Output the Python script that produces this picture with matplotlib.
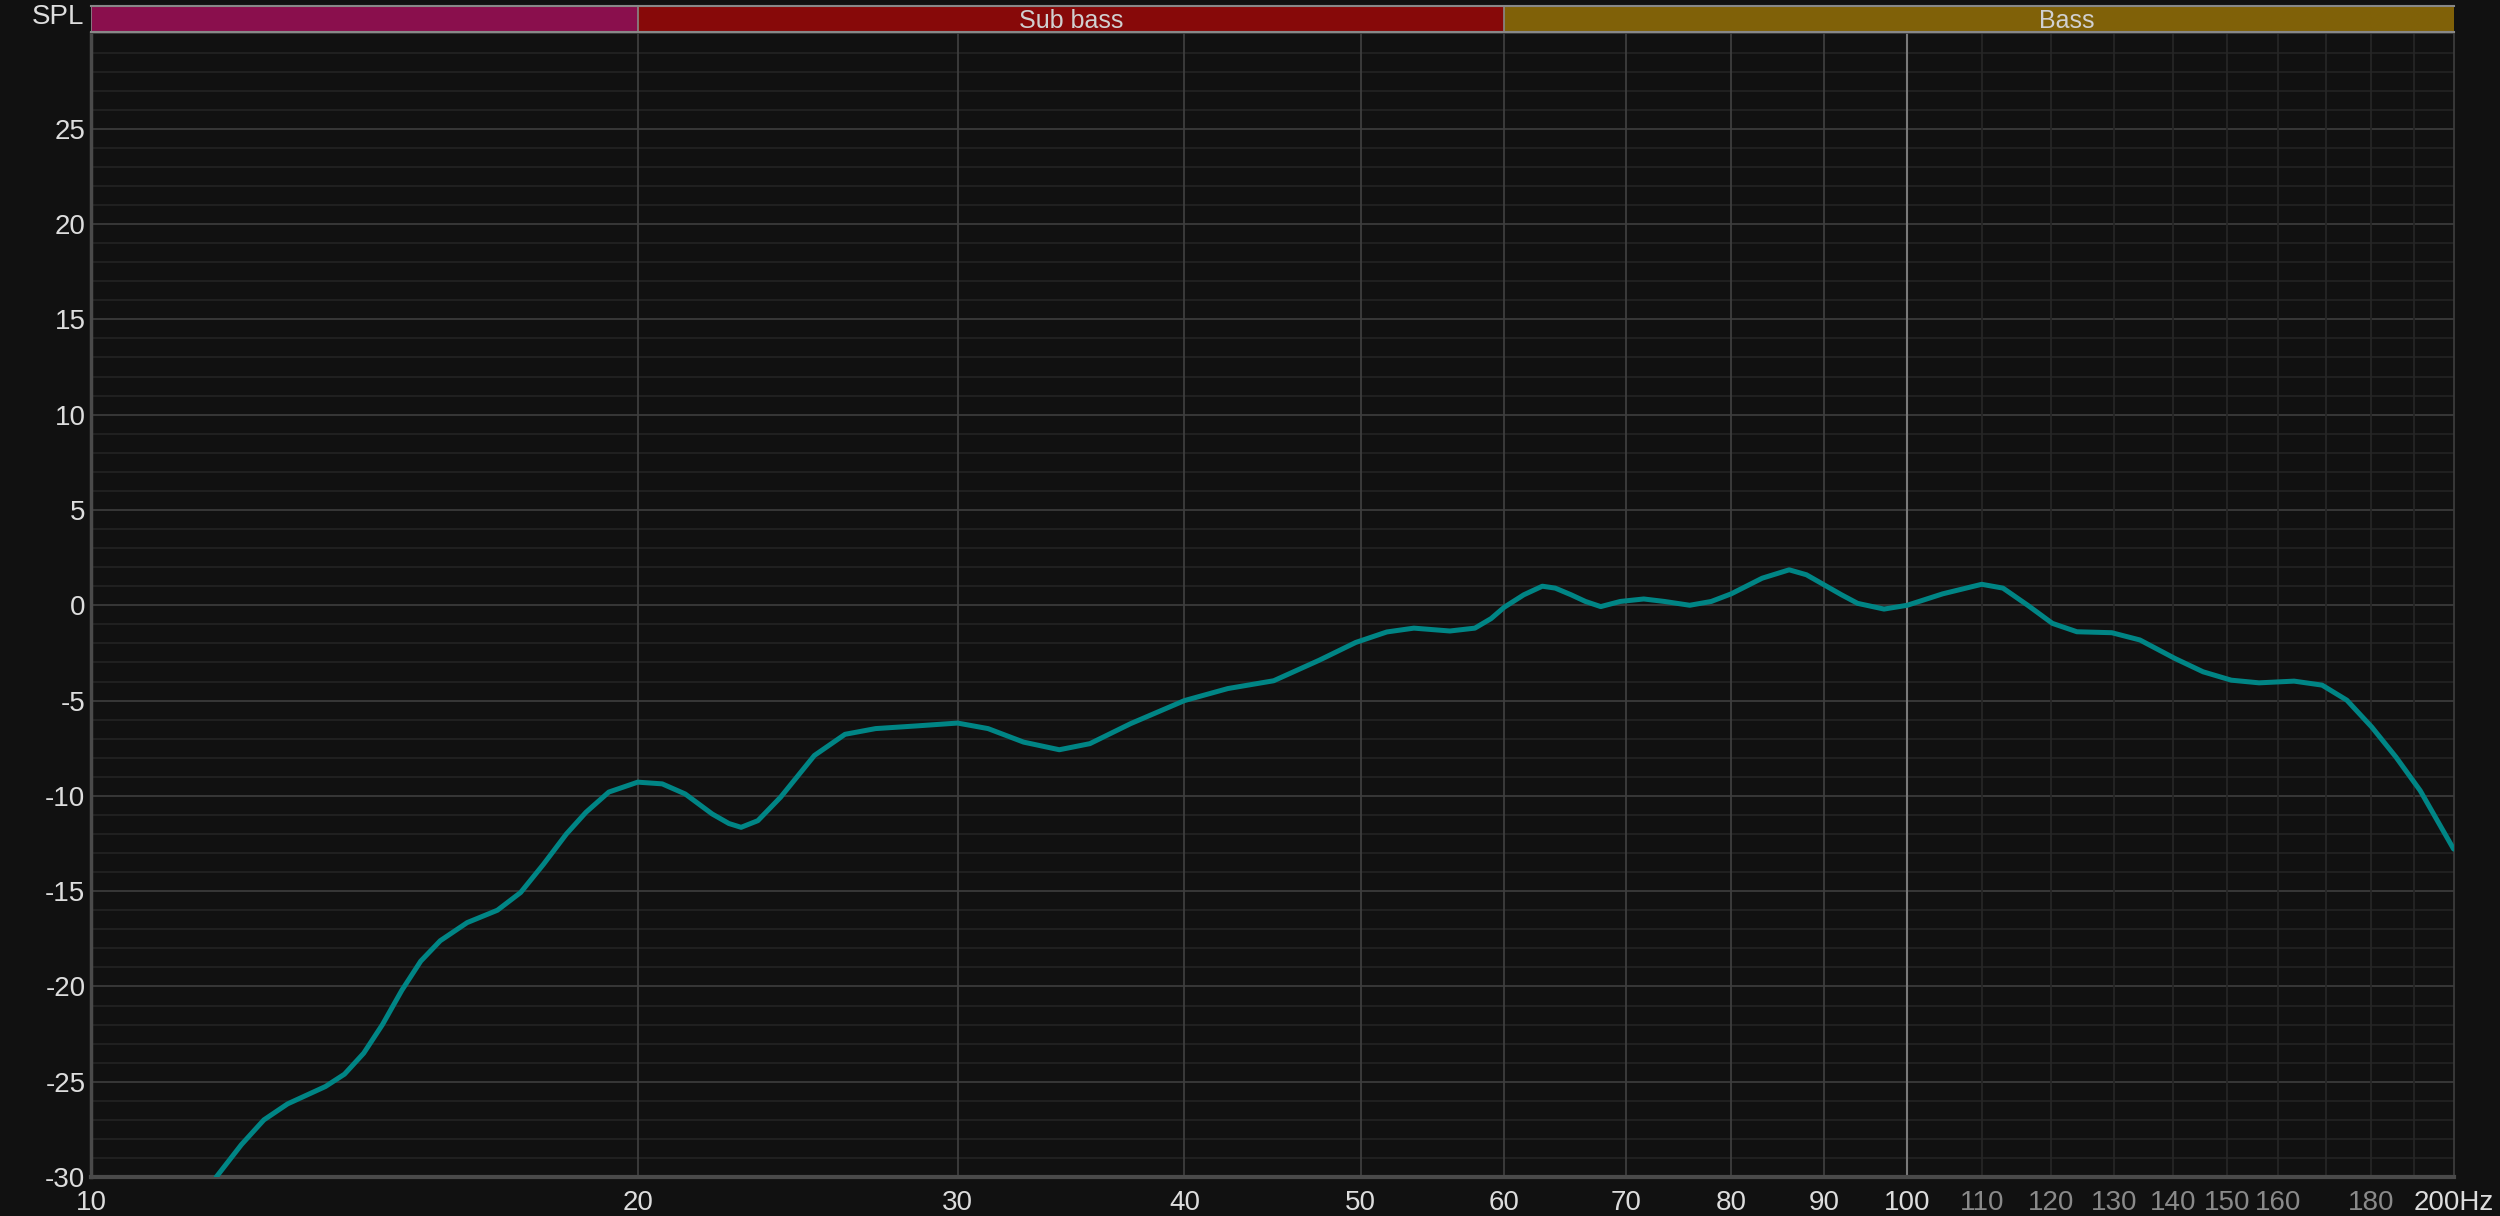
import matplotlib
matplotlib.use("Agg")
import matplotlib.pyplot as plt
import numpy as np

# frequency response (Hz, dB)
freq = [11.72, 12.10, 12.45, 12.83, 13.46, 13.79, 14.13, 14.47, 14.83, 15.19, 15.57,
        16.11, 16.74, 17.24, 17.75, 18.27, 18.73, 19.28, 20.0, 20.63, 21.24, 21.98,
        22.45, 22.8, 23.29, 23.97, 25.02, 26.01, 27.04, 28.48, 30.0, 31.18, 32.62,
        34.13, 35.48, 37.36, 40.0, 42.26, 44.79, 47.46, 49.7, 51.7, 53.5, 56.0,
        57.8, 59.0, 60.0, 61.5, 62.96, 64.0, 65.3, 66.5, 67.8, 69.5, 71.6, 73.5,
        75.9, 78.0, 80.0, 83.2, 86.1, 88.0, 90.0, 92.0, 93.9, 97.1, 100.0, 104.6,
        109.9, 112.9, 116.5, 120.2, 124.0, 129.6, 134.3, 140.4, 145.5, 150.8,
        156.2, 163.3, 169.2, 174.6, 180.2, 185.8, 191.6, 199.9]
spl = [-30.0, -28.3, -27.0, -26.16, -25.25, -24.6, -23.5, -22.0, -20.2, -18.67, -17.6,
       -16.65, -16.0, -15.07, -13.58, -12.0, -10.86, -9.8, -9.28, -9.37, -9.9, -10.95,
       -11.45, -11.65, -11.3, -10.07, -7.88, -6.77, -6.47, -6.33, -6.18, -6.47, -7.18,
       -7.58, -7.26, -6.21, -5.0, -4.37, -3.96, -2.88, -1.95, -1.4, -1.2, -1.35,
       -1.2, -0.7, -0.1, 0.55, 1.0, 0.9, 0.55, 0.2, -0.07, 0.2, 0.33, 0.2,
       0.0, 0.2, 0.6, 1.42, 1.86, 1.6, 1.07, 0.55, 0.1, -0.2, 0.0, 0.6,
       1.1, 0.9, 0.0, -0.95, -1.39, -1.44, -1.82, -2.79, -3.49, -3.93,
       -4.07, -3.98, -4.19, -4.98, -6.39, -7.96, -9.72, -12.79]

# frequency bands shown in the strip on top
band_names = ["", "Sub bass", "Bass"]
band_lo = [10, 20, 60]
band_hi = [20, 60, 250]
band_colors = ["#8a0f4d", "#870909", "#806108"]

xticks = [10, 20, 30, 40, 50, 60, 70, 80, 90, 100, 110, 120, 130, 140, 150, 160, 180, 200]
xlabels = ["10", "20", "30", "40", "50", "60", "70", "80", "90", "100",
           "110", "120", "130", "140", "150", "160", "180", "200Hz"]
yticks = list(range(-30, 30, 5))

bg = "#111111"
plt.rcParams['font.family'] = ["Liberation Sans Narrow", "Liberation Sans", "DejaVu Sans"]
plt.rcParams['axes.unicode_minus'] = False

fig = plt.figure(figsize=(25, 12.16), dpi=100, facecolor=bg)
ax = fig.add_axes([0.0364, 0.032, 0.9452, 0.9405])
ax.set_facecolor(bg)
ax.set_xscale('log')
ax.set_xlim(10, 200)
ax.set_ylim(-30, 30)

# grid lines
for y in range(-29, 30):
    c = "#3a3a3a" if y % 5 == 0 else "#222222"
    ax.axhline(y, color=c, lw=1.3, zorder=1)
for f in range(20, 100, 10):
    ax.axvline(f, color="#3e3e3e", lw=1.3, zorder=1)
ax.axvline(100, color="#7a7a7a", lw=1.5, zorder=1)
for f in range(110, 200, 10):
    ax.axvline(f, color="#262626", lw=1.3, zorder=1)

ax.plot(freq, spl, color="#008585", lw=3.6, zorder=3, solid_capstyle='round',
        solid_joinstyle='round')

ax.set_xticks(xticks)
ax.set_xticklabels(xlabels)
ax.xaxis.set_minor_locator(matplotlib.ticker.NullLocator())
ax.set_yticks(yticks)
ax.tick_params(length=0, labelsize=20, colors="#dddddd")
ax.tick_params(axis='x', pad=9)
ax.tick_params(axis='y', pad=4)
for lab, f in zip(ax.get_xticklabels(), xticks):
    if 100 < f < 200:
        lab.set_color("#8a8a8a")

for s in ['top', 'right']:
    ax.spines[s].set_color("#3c3c3c")
    ax.spines[s].set_linewidth(1.3)
ax.spines['left'].set_color("#4a4a4a")
ax.spines['left'].set_linewidth(2.5)
ax.spines['bottom'].set_color("#4a4a4a")
ax.spines['bottom'].set_linewidth(3)

# band strip
bax = fig.add_axes([0.0364, 0.9737, 0.9452, 0.0213])
bax.set_xscale('log')
bax.set_xlim(10, 200)
bax.set_ylim(0, 1)
for name, lo, hi, c in zip(band_names, band_lo, band_hi, band_colors):
    bax.axvspan(lo, hi, color=c, zorder=1)
    bax.axvline(lo, color="#888888", lw=1.2, zorder=2)
    if name:
        bax.text(np.sqrt(lo * hi), 0.42, name, ha='center', va='center',
                 color="#d0d0d0", fontsize=18)
bax.set_xticks([])
bax.set_yticks([])
bax.xaxis.set_minor_locator(matplotlib.ticker.NullLocator())
for s in bax.spines.values():
    s.set_color("#888888")
    s.set_linewidth(1.5)
bax.spines['left'].set_visible(False)
bax.spines['right'].set_visible(False)
fig.text(0.0335, 0.986, "SPL", ha='right', va='center', color="#dddddd", fontsize=20)

fig.savefig("out.png", dpi=100, facecolor=bg)
